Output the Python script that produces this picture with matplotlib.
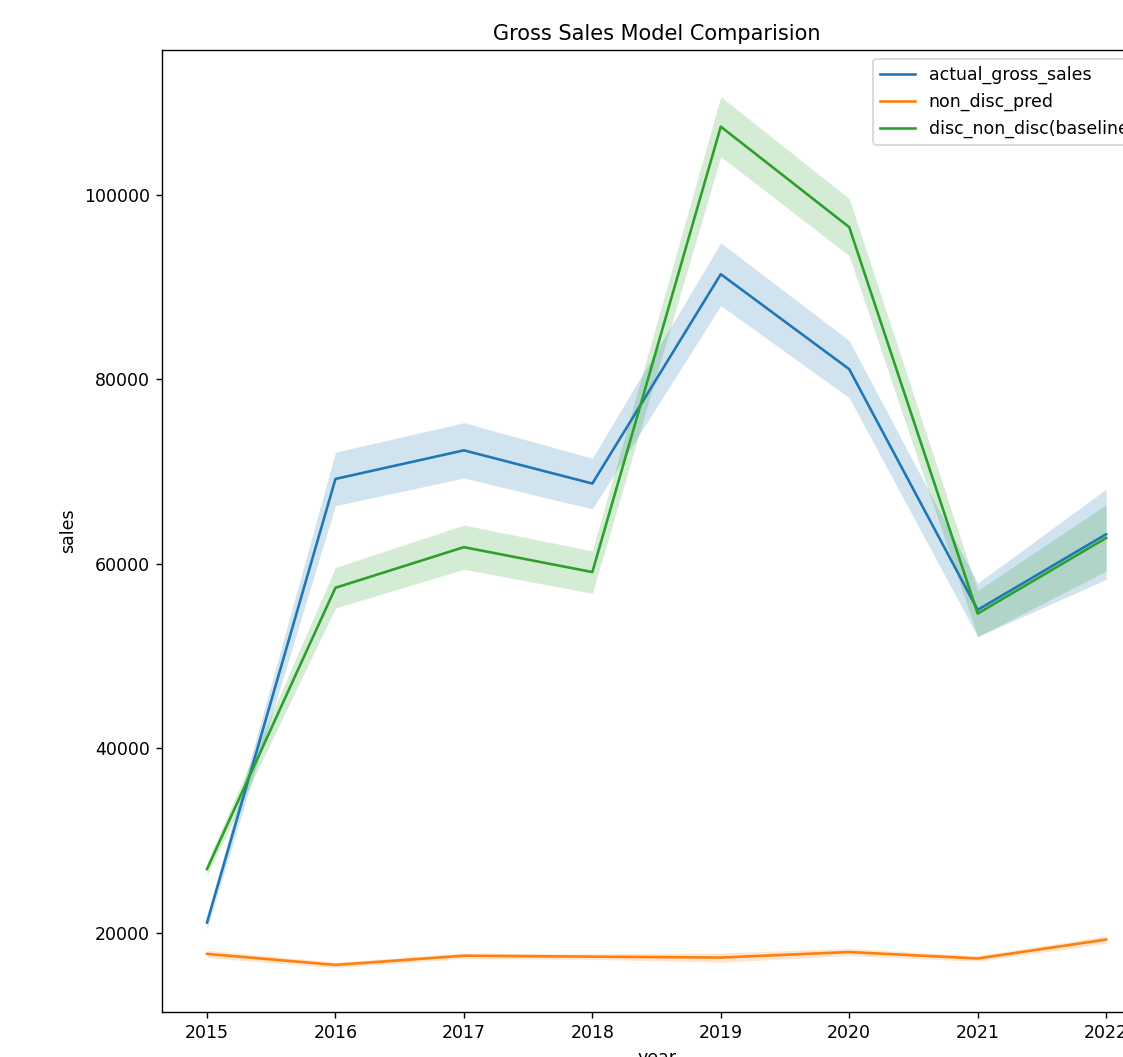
import matplotlib
matplotlib.use("Agg")
import matplotlib.pyplot as plt
import numpy as np

years = [2015, 2016, 2017, 2018, 2019, 2020, 2021, 2022]

# mean sales per year and half width of the 95% ci band
actual_gross_sales = [21100, 69200, 72300, 68700, 91400, 81100, 55000, 63200]
actual_ci = [700, 2900, 3000, 2750, 3400, 3100, 2900, 4900]

non_disc_pred = [17700, 16500, 17500, 17400, 17300, 17900, 17200, 19250]
non_disc_ci = [400, 300, 300, 300, 500, 400, 300, 400]

disc_non_disc = [26900, 57400, 61800, 59100, 107400, 96500, 54600, 62800]
disc_ci = [700, 2200, 2400, 2300, 3250, 3100, 2500, 3600]

series = [
    ("actual_gross_sales", actual_gross_sales, actual_ci, "tab:blue"),
    ("non_disc_pred", non_disc_pred, non_disc_ci, "tab:orange"),
    ("disc_non_disc(baseline)", disc_non_disc, disc_ci, "tab:green"),
]

# 125 dpi so text and lines come out a bit heavier than the 100 dpi default
fig = plt.figure(figsize=(1123 / 125, 1057 / 125), dpi=125)
ax = fig.add_axes([0.1443, 0.0426, 0.8807, 0.910])

for name, vals, ci, col in series:
    vals = np.array(vals)
    ci = np.array(ci)
    ax.plot(years, vals, color=col, lw=1.5, label=name)
    ax.fill_between(years, vals - ci, vals + ci, color=col, alpha=0.2, lw=0)

ax.set_xlim(2014.65, 2022.35)
ax.set_ylim(11400, 115700)
ax.set_yticks([20000, 40000, 60000, 80000, 100000])
ax.set_title("Gross Sales Model Comparision")
ax.set_xlabel("year")
ax.set_ylabel("sales")
ax.legend(loc="upper right")

fig.savefig("out.png", dpi=125)
